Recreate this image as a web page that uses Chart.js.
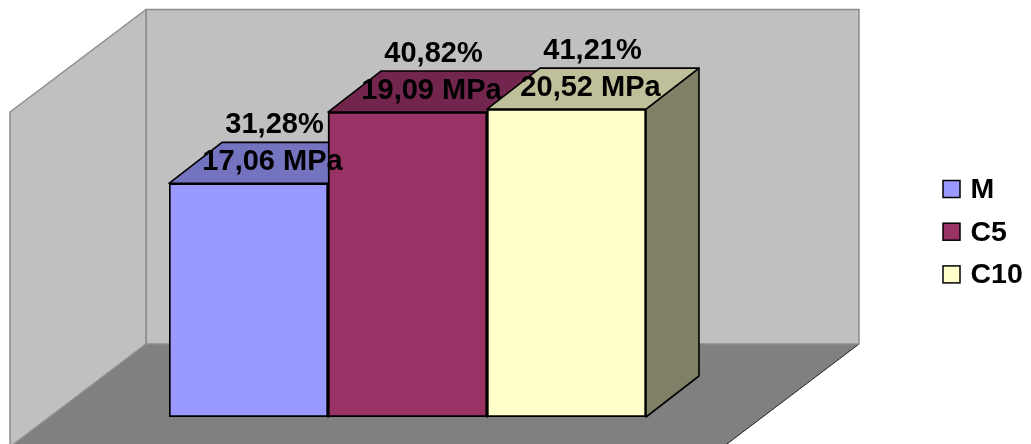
<!DOCTYPE html>
<html>
<head>
<meta charset="utf-8">
<style>html,body{margin:0;padding:0;background:#fff}canvas{display:block}</style>
<script src="https://cdn.jsdelivr.net/npm/chart.js@4"></script>
</head>
<body>
<canvas id="c" width="1031" height="444"></canvas>
<script>
// Compressive strength gain per mix
const seriesNames = ['M', 'C5', 'C10'];
const gainPercent = [31.28, 40.82, 41.21];
const percentLabels = ['31,28%', '40,82%', '41,21%'];
const strengthLabels = ['17,06 MPa', '19,09 MPa', '20,52 MPa'];
const frontColors = ['#9999FF', '#993366', '#FFFFCC'];
const topColors = ['#7373BF', '#73264D', '#BFBF99'];
const sideColors = ['#4D4D80', '#4D1A33', '#808066'];

const DEPTH = { x: 53, y: -41 };
const FONT = 'bold 29px "Liberation Sans", Arial, sans-serif';

function poly(ctx, pts, fill, stroke, lw) {
  ctx.beginPath();
  pts.forEach((p, i) => i ? ctx.lineTo(p[0], p[1]) : ctx.moveTo(p[0], p[1]));
  ctx.closePath();
  if (fill) { ctx.fillStyle = fill; ctx.fill(); }
  if (stroke) { ctx.strokeStyle = stroke; ctx.lineWidth = lw; ctx.lineJoin = 'round'; ctx.stroke(); }
}

// Room behind the bars: back wall, side wall and floor
const roomPlugin = {
  id: 'room',
  beforeDatasetsDraw(chart) {
    const { ctx } = chart;
    ctx.save();
    const grey = '#8C8C8C';
    poly(ctx, [[146, 344], [859, 344], [723, 447], [10, 447]], '#808080');
    ctx.strokeStyle = '#222'; ctx.lineWidth = 1;
    ctx.beginPath(); ctx.moveTo(859, 344); ctx.lineTo(723, 447); ctx.stroke();
    poly(ctx, [[146, 9.5], [859, 9.5], [859, 344], [146, 344]], '#C0C0C0', grey, 1.5);
    poly(ctx, [[146, 9.5], [146, 344], [10, 447], [10, 112]], '#C0C0C0', grey, 1.5);
    ctx.restore();
  }
};

// Top and side faces extruded from each bar's front rectangle
const extrudePlugin = {
  id: 'extrude',
  beforeDatasetsDraw(chart) {
    const { ctx } = chart;
    ctx.save();
    chart.data.datasets.forEach((ds, i) => {
      const bar = chart.getDatasetMeta(i).data[0];
      const l = bar.x - bar.width / 2, r = bar.x + bar.width / 2;
      const t = bar.y, b = bar.base;
      poly(ctx, [[r, t], [r + DEPTH.x, t + DEPTH.y], [r + DEPTH.x, b + DEPTH.y], [r, b]], sideColors[i], '#000', 1.6);
      poly(ctx, [[l, t], [l + DEPTH.x, t + DEPTH.y], [r + DEPTH.x, t + DEPTH.y], [r, t]], topColors[i], '#000', 1.6);
    });
    ctx.restore();
  }
};

// Value captions above each bar and the key on the right
const captionPlugin = {
  id: 'captions',
  afterDatasetsDraw(chart) {
    const { ctx } = chart;
    ctx.save();
    ctx.fillStyle = '#000';
    ctx.font = FONT;
    ctx.textAlign = 'center';
    ctx.textBaseline = 'middle';
    chart.data.datasets.forEach((ds, i) => {
      const bar = chart.getDatasetMeta(i).data[0];
      ctx.fillText(percentLabels[i], bar.x + 26, bar.y - 58.5);
      ctx.fillText(strengthLabels[i], bar.x + 24, bar.y - 21.5);
    });
    ctx.font = 'bold 28.5px "Liberation Sans", Arial, sans-serif';
    ctx.textAlign = 'left';
    seriesNames.forEach((name, i) => {
      const y = 189 + i * 42.7;
      ctx.fillStyle = frontColors[i];
      ctx.strokeStyle = '#000';
      ctx.lineWidth = 1.5;
      ctx.fillRect(943, y - 8.5, 17, 17);
      ctx.strokeRect(943, y - 8.5, 17, 17);
      ctx.fillStyle = '#000';
      ctx.fillText(name, 970.5, y + 1);
    });
    ctx.restore();
  }
};

new Chart(document.getElementById('c'), {
  type: 'bar',
  data: {
    labels: [''],
    datasets: seriesNames.map((name, i) => ({
      label: name,
      data: [gainPercent[i]],
      backgroundColor: frontColors[i],
      borderColor: '#000',
      borderWidth: 2,
      borderSkipped: false,
      barPercentage: 1,
      categoryPercentage: 1
    }))
  },
  options: {
    responsive: false,
    animation: false,
    layout: { padding: { left: 169, right: 385, top: 43.5, bottom: 27 } },
    plugins: { legend: { display: false }, tooltip: { enabled: false } },
    scales: {
      x: { display: false },
      y: { display: false, min: 0, max: 50 }
    }
  },
  plugins: [roomPlugin, extrudePlugin, captionPlugin]
});
</script>
</body>
</html>
